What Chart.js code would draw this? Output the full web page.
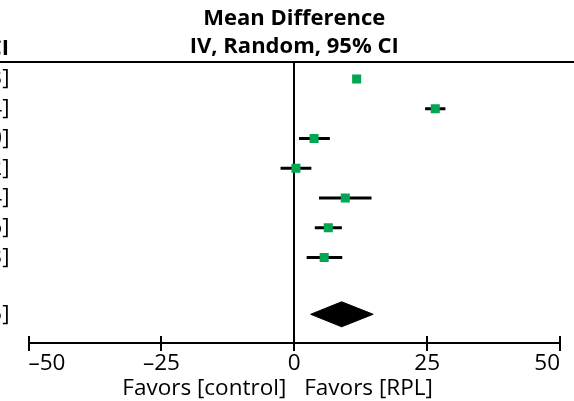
<!DOCTYPE html>
<html>
<head>
<meta charset="utf-8">
<script src="https://cdn.jsdelivr.net/npm/chart.js@4.4.1/dist/chart.umd.min.js"></script>
<style>
  html, body { margin: 0; padding: 0; background: #fff; }
  #wrap { width: 574px; height: 401px; }
</style>
</head>
<body>
<div id="wrap"><canvas id="c"></canvas></div>
<script>
// ---- data ----
const meanDiff = [11.74, 26.53, 3.73, 0.32, 9.60, 6.40, 5.63];
const ciLower  = [11.25, 24.62, 0.90, -2.58, 4.66, 3.86, 2.33];
const ciUpper  = [12.23, 28.44, 6.70, 3.22, 14.54, 8.96, 9.03];
const ciLabels = [
  '11.74 [11.25, 12.23]',
  '26.53 [24.62, 28.44]',
  '3.73 [0.90, 6.70]',
  '0.32 [−2.58, 3.22]',
  '9.60 [4.66, 14.54]',
  '6.40 [3.86, 8.96]',
  '5.63 [2.33, 9.03]',
  '8.92 [3.09, 14.85]'
];
const totalMean  = 8.92;
const totalLower = 3.09;
const totalUpper = 14.85;
const tickLabels = ['–50', '–25', '0', '25', '50'];
const titleLines = ['Mean Difference', 'IV, Random, 95% CI'];
const ciHeader = '95% CI';
const favorsLeft = 'Favors [control]';
const favorsRight = 'Favors [RPL]';

// ---- layout constants ----
const Y_MIN = 0.43, Y_MAX = 9.875;
const rowPos = meanDiff.map((_, i) => i + 1);
const totalRow = meanDiff.length + 1.91;
const DIAMOND_H = 0.42;
const FONT = 'Open Sans';
const TXT = 22.5;
const TTL = 22;

const squares = meanDiff.map((m, i) => ({ x: m, y: rowPos[i] }));
const ciSegs = [];
meanDiff.forEach((_, i) => {
  ciSegs.push({ x: ciLower[i], y: rowPos[i] });
  ciSegs.push({ x: ciUpper[i], y: rowPos[i] });
  ciSegs.push({ x: null, y: null });
});
const diamond = [
  { x: totalLower, y: totalRow },
  { x: totalMean, y: totalRow - DIAMOND_H },
  { x: totalUpper, y: totalRow },
  { x: totalMean, y: totalRow + DIAMOND_H },
  { x: totalLower, y: totalRow }
];

const decor = {
  id: 'decor',
  afterDraw(chart) {
    const { ctx, chartArea, scales: { x } } = chart;
    ctx.save();
    ctx.strokeStyle = '#000';
    ctx.lineWidth = 2;
    ctx.beginPath();
    ctx.moveTo(0, chartArea.top);
    ctx.lineTo(chart.width, chartArea.top);
    x.ticks.forEach(t => {
      const px = Math.round(x.getPixelForValue(t.value) - 1) + 1;
      ctx.moveTo(px, chartArea.bottom - 7);
      ctx.lineTo(px, chartArea.bottom);
    });
    ctx.stroke();
    ctx.fillStyle = '#000';
    ctx.textBaseline = 'alphabetic';
    ctx.font = TXT + 'px "' + FONT + '"';
    const zx = x.getPixelForValue(0);
    ctx.textAlign = 'right';
    ctx.fillText(favorsLeft, zx - 8, chartArea.bottom + 52);
    ctx.textAlign = 'left';
    ctx.fillText(favorsRight, zx + 10, chartArea.bottom + 52);
    ctx.font = 'bold ' + TTL + 'px "' + FONT + '"';
    ctx.textAlign = 'right';
    ctx.fillText(ciHeader, 9, 55);
    ctx.restore();
  }
};

Chart.defaults.font.family = FONT;

new Chart(document.getElementById('c'), {
  type: 'scatter',
  data: {
    datasets: [
      {
        type: 'scatter',
        data: squares,
        pointStyle: 'rect',
        pointRadius: 6.4,
        pointHoverRadius: 6.4,
        backgroundColor: '#00A651',
        borderWidth: 0
      },
      {
        type: 'line',
        data: ciSegs,
        borderColor: '#000',
        borderWidth: 3,
        borderCapStyle: 'butt',
        pointRadius: 0,
        spanGaps: false,
        fill: false,
        tension: 0
      },
      {
        type: 'line',
        data: diamond,
        borderColor: '#000',
        backgroundColor: '#000',
        borderWidth: 1,
        pointRadius: 0,
        fill: 'shape',
        tension: 0
      }
    ]
  },
  options: {
    responsive: true,
    maintainAspectRatio: false,
    animation: false,
    events: [],
    layout: { padding: { left: 0, right: 14, top: 0, bottom: 0 } },
    plugins: {
      legend: { display: false },
      tooltip: { enabled: false },
      title: {
        display: true,
        text: titleLines,
        color: '#000',
        fullSize: false,
        align: 'center',
        font: { family: FONT, size: TTL, weight: 'bold', lineHeight: '28px' },
        padding: { top: 5, bottom: 1 }
      }
    },
    scales: {
      x: {
        type: 'linear',
        position: 'bottom',
        min: -50,
        max: 50,
        offset: false,
        afterFit: s => { s.height = 58; },
        ticks: {
          stepSize: 25,
          autoSkip: false,
          maxRotation: 0,
          align: 'inner',
          padding: 1.5,
          color: '#000',
          font: { family: FONT, size: TXT, lineHeight: 1 },
          callback: (v, i) => tickLabels[i]
        },
        grid: {
          color: c => (c.tick && c.tick.value === 0) ? '#000' : 'rgba(0,0,0,0)',
          lineWidth: 2,
          drawTicks: true,
          tickLength: 8,
          tickColor: '#000',
          tickWidth: 2
        },
        border: { display: true, color: '#000', width: 2 }
      },
      y: {
        type: 'linear',
        position: 'left',
        reverse: true,
        min: Y_MIN,
        max: Y_MAX,
        offset: false,
        afterBuildTicks: s => { s.ticks = rowPos.concat([totalRow]).map(v => ({ value: v })); },
        afterFit: s => { s.width = 28.5; },
        ticks: {
          autoSkip: false,
          padding: 19,
          color: '#000',
          font: { family: FONT, size: TXT, lineHeight: 1 },
          callback: (v, i) => ciLabels[i]
        },
        grid: { display: false, drawTicks: false, offset: false },
        border: { display: false }
      }
    }
  },
  plugins: [decor]
});
</script>
</body>
</html>
